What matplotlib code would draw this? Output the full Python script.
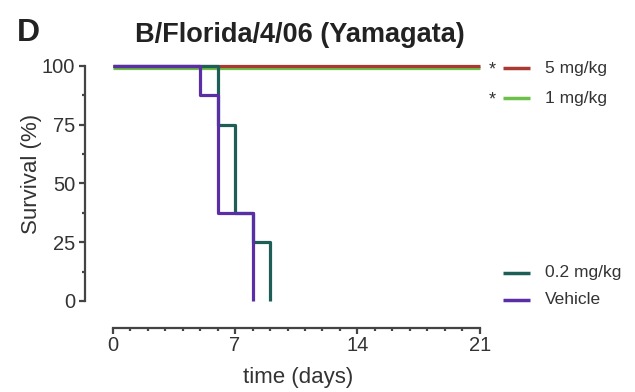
import matplotlib
matplotlib.use("Agg")
import matplotlib.pyplot as plt
from matplotlib.lines import Line2D
from matplotlib.ticker import FixedLocator
import matplotlib.transforms as mtransforms
import numpy as np

plt.rcParams['font.family'] = ['Liberation Sans', 'DejaVu Sans']

# ---- data ----
series_names = ["5 mg/kg", "1 mg/kg", "0.2 mg/kg", "Vehicle"]
times_5 = [0, 21]
surv_5 = [100, 100]
times_1 = [0, 21]
surv_1 = [100, 100]
times_02 = [0, 6, 7, 8, 9]
surv_02 = [100, 75, 37.5, 25, 0]
times_veh = [0, 5, 6, 8]
surv_veh = [100, 87.5, 37.5, 0]
x_ticks = [0, 7, 14, 21]
y_ticks = [0, 25, 50, 75, 100]
significant = ["5 mg/kg", "1 mg/kg"]

colors = {"5 mg/kg": "#a83a32", "1 mg/kg": "#6cc04a",
          "0.2 mg/kg": "#1e5e57", "Vehicle": "#5a2fa6"}
text_col = "#333333"

W, H = 635, 392
fig = plt.figure(figsize=(W / 100, H / 100), dpi=100)

def fx(px):
    return px / W

def fy(py):
    return 1 - py / H

# axes box in pixels
L, R, T, B = 80, 500, 60, 335
ax = fig.add_axes([fx(L), fy(B), fx(R) - fx(L), fy(T) - fy(B)])
x0px, pxday = 112.7, 17.48
y0px, pxpct = 301.0, 2.35
ax.set_xlim((L - x0px) / pxday, (R - x0px) / pxday)
ax.set_ylim((y0px - B) / pxpct, (y0px - T) / pxpct)

lw = 2.3
down = mtransforms.offset_copy(ax.transData, fig=fig, x=0, y=-2.2, units='dots')
ax.step(times_1, surv_1, where='post', color=colors["1 mg/kg"], lw=lw,
        transform=down, zorder=2, solid_capstyle='butt')
ax.step(times_5, surv_5, where='post', color=colors["5 mg/kg"], lw=lw,
        zorder=3, solid_capstyle='butt')
ax.step(times_02, surv_02, where='post', color=colors["0.2 mg/kg"], lw=lw,
        zorder=4, solid_capstyle='butt')
ax.step(times_veh, surv_veh, where='post', color=colors["Vehicle"], lw=lw,
        zorder=5, solid_capstyle='butt')

# spines
for s in ['top', 'right']:
    ax.spines[s].set_visible(False)
ax.spines['left'].set_position(('data', (85 - x0px) / pxday))
ax.spines['bottom'].set_position(('data', (y0px - 328) / pxpct))
ax.spines['left'].set_bounds(0, 100)
ax.spines['bottom'].set_bounds(0, 21)
for s in ['left', 'bottom']:
    ax.spines[s].set_linewidth(1.6)
    ax.spines[s].set_color("#444444")

ax.set_xticks(x_ticks)
ax.set_yticks(y_ticks)
ax.xaxis.set_minor_locator(FixedLocator(np.arange(0, 22, 1)))
ax.yaxis.set_minor_locator(FixedLocator(np.arange(0, 101, 12.5)))
ax.tick_params(which='major', length=4, width=1.6, color="#444444",
               labelsize=14.5, labelcolor=text_col, pad=3)
ax.tick_params(which='minor', length=2.2, width=1.6, color="#444444")
ax.tick_params(axis='x', which='major', pad=2)
ax.patch.set_visible(False)

# labels
fig.text(fx(31), fy(174), "Survival (%)", rotation=90, ha='center', va='center',
         fontsize=16, color=text_col)
fig.text(fx(298), fy(377), "time (days)", ha='center', va='center',
         fontsize=16, color=text_col)
fig.text(fx(300), fy(35), "B/Florida/4/06 (Yamagata)", ha='center', va='center',
         fontsize=19.5, fontweight='bold', color="#222222")
fig.text(fx(28), fy(33), "D", ha='center', va='center',
         fontsize=23, fontweight='bold', color="#222222")

# legend
leg_y = {"5 mg/kg": 68, "1 mg/kg": 98, "0.2 mg/kg": 273, "Vehicle": 300}
for name in series_names:
    y = leg_y[name]
    fig.add_artist(Line2D([fx(503), fx(530)], [fy(y), fy(y)], color=colors[name],
                          lw=2.5, transform=fig.transFigure, solid_capstyle='butt'))
    fig.text(fx(545), fy(y), name, ha='left', va='center', fontsize=12.5, color=text_col)
    if name in significant:
        fig.text(fx(492), fy(y + 2), "*", ha='center', va='center', fontsize=13,
                 color=text_col)

fig.savefig("out.png", dpi=100)
